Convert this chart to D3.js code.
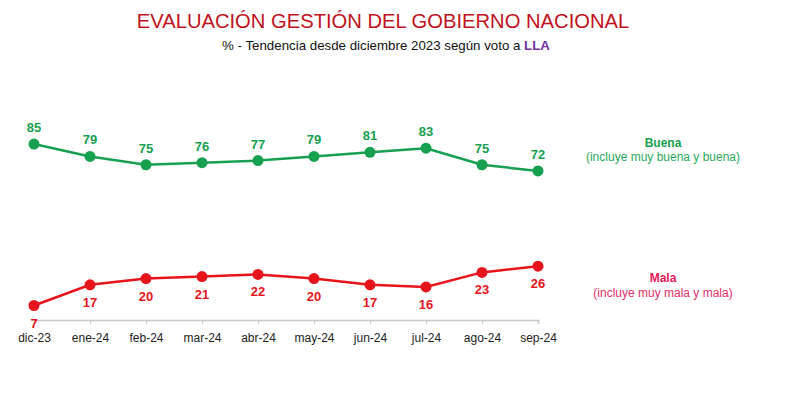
<!DOCTYPE html>
<html>
<head>
<meta charset="utf-8">
<script src="https://cdn.jsdelivr.net/npm/d3@7"></script>
<style>
	body { margin: 0; background: #fff; }
	text { font-family: 'Liberation Sans', Arial, sans-serif; }
</style>
</head>
<body>
<div id="chart"></div>
<script>
// data
var months = [ 'dic-23', 'ene-24', 'feb-24', 'mar-24', 'abr-24', 'may-24', 'jun-24', 'jul-24', 'ago-24', 'sep-24' ];
var buena = [ 85, 79, 75, 76, 77, 79, 81, 83, 75, 72 ];
var mala = [ 7, 17, 20, 21, 22, 20, 17, 16, 23, 26 ];

var green = '#16a050';
var red = '#e8141c';

var svg = d3.select( '#chart' ).append( 'svg' )
	.attr( 'width', 790 )
	.attr( 'height', 405 );

// titles
svg.append( 'text' )
	.attr( 'x', 383 )
	.attr( 'y', 28 )
	.attr( 'text-anchor', 'middle' )
	.attr( 'font-size', '20.2px' )
	.attr( 'fill', '#c0121c' )
	.text( 'EVALUACIÓN GESTIÓN DEL GOBIERNO NACIONAL' );

var sub = svg.append( 'text' )
	.attr( 'x', 386 )
	.attr( 'y', 50 )
	.attr( 'text-anchor', 'middle' )
	.attr( 'font-size', '13.3px' )
	.attr( 'fill', '#111' );
sub.append( 'tspan' ).text( '% - Tendencia desde diciembre 2023 según voto a ' );
sub.append( 'tspan' ).attr( 'fill', '#7030a0' ).attr( 'font-weight', 'bold' ).text( 'LLA' );

// scales
var xScale = d3.scalePoint()
	.domain( months )
	.range( [ 34, 538 ] );

var yScale = d3.scaleLinear()
	.domain( [ 0, 100 ] )
	.range( [ 320, 113 ] );

// x axis
var xAxis = d3.axisBottom( xScale )
	.tickSize( 4 )
	.tickPadding( 9 );

var gx = svg.append( 'g' )
	.attr( 'transform', 'translate(0,' + yScale( 0 ) + ')' )
	.call( xAxis );
gx.select( '.domain' ).attr( 'stroke', '#c8c8c8' ).attr( 'stroke-width', 1.5 );
gx.selectAll( '.tick line' ).attr( 'stroke', '#c8c8c8' );
gx.selectAll( '.tick text' )
	.attr( 'font-size', '12px' )
	.attr( 'fill', '#222' )
	.style( 'font-family', "'Liberation Sans', Arial, sans-serif" );

// series
function drawSeries( values, color, labelDy ) {
	var line = d3.line()
		.x( function( d, i ) { return xScale( months[ i ] ); } )
		.y( function( d ) { return yScale( d ); } );

	svg.append( 'path' )
		.datum( values )
		.attr( 'd', line )
		.attr( 'fill', 'none' )
		.attr( 'stroke', color )
		.attr( 'stroke-width', 2.5 );

	svg.selectAll( null )
		.data( values )
		.enter()
		.append( 'circle' )
		.attr( 'cx', function( d, i ) { return xScale( months[ i ] ); } )
		.attr( 'cy', function( d ) { return yScale( d ); } )
		.attr( 'r', 5.5 )
		.attr( 'fill', color );

	svg.selectAll( null )
		.data( values )
		.enter()
		.append( 'text' )
		.attr( 'x', function( d, i ) { return xScale( months[ i ] ); } )
		.attr( 'y', function( d ) { return yScale( d ) + labelDy; } )
		.attr( 'text-anchor', 'middle' )
		.attr( 'font-size', '13px' )
		.attr( 'font-weight', 'bold' )
		.attr( 'fill', color )
		.text( function( d ) { return d; } );
}

drawSeries( buena, green, -12 );
drawSeries( mala, red, 22 );

// legend labels
svg.append( 'text' )
	.attr( 'x', 663 )
	.attr( 'y', 147 )
	.attr( 'text-anchor', 'middle' )
	.attr( 'font-size', '12px' )
	.attr( 'font-weight', 'bold' )
	.attr( 'fill', green )
	.text( 'Buena' );
svg.append( 'text' )
	.attr( 'x', 663 )
	.attr( 'y', 161 )
	.attr( 'text-anchor', 'middle' )
	.attr( 'font-size', '12px' )
	.attr( 'fill', '#2aa860' )
	.text( '(incluye muy buena y buena)' );

svg.append( 'text' )
	.attr( 'x', 663 )
	.attr( 'y', 282 )
	.attr( 'text-anchor', 'middle' )
	.attr( 'font-size', '12px' )
	.attr( 'font-weight', 'bold' )
	.attr( 'fill', '#e3195a' )
	.text( 'Mala' );
svg.append( 'text' )
	.attr( 'x', 663 )
	.attr( 'y', 297 )
	.attr( 'text-anchor', 'middle' )
	.attr( 'font-size', '12px' )
	.attr( 'fill', '#e3306a' )
	.text( '(incluye muy mala y mala)' );
</script>
</body>
</html>
